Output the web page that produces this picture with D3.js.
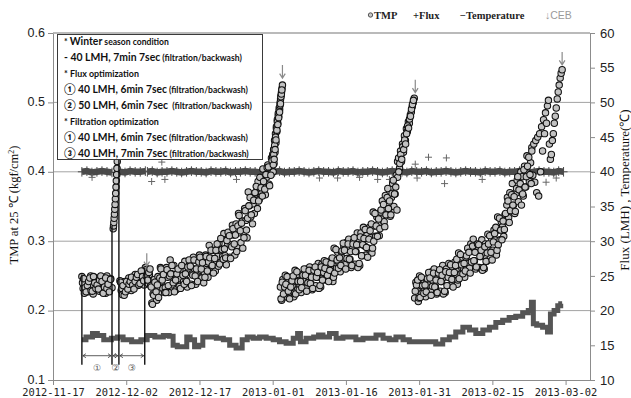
<!DOCTYPE html>
<html>
<head>
<meta charset="utf-8">
<script src="https://cdn.jsdelivr.net/npm/d3@7"></script>
<style>
  body { margin: 0; background: #fff; }
  svg { display: block; }
</style>
</head>
<body>
<svg id="chart" width="631" height="398"></svg>
<script>
// ---------------- data ----------------
const xTickDates = ["2012-11-17", "2012-12-02", "2012-12-17", "2013-01-01",
                    "2013-01-16", "2013-01-31", "2013-02-15", "2013-03-02"];
const tmpTicks = [0.1, 0.2, 0.3, 0.4, 0.5, 0.6];
const rightTicks = [10, 15, 20, 25, 30, 35, 40, 45, 50, 55, 60];

// TMP runs (kgf/cm2): each run is logged at regular intervals between its start and end.
// The "b" runs are the interleaved readings of the same periods.
const tmpRunStart = ["2012-11-22 22:00", "2012-11-29 08:00", "2012-11-30 17:00",
                     "2012-12-06 00:00", "2013-01-01 00:00", "2013-01-02 14:00",
                     "2013-01-26 14:00", "2013-01-30 02:00", "2013-02-23 02:00",
                     "2012-11-23 01:00", "2012-11-30 20:00", "2012-12-06 03:00",
                     "2013-01-01 03:00", "2013-01-02 17:00", "2013-01-26 20:00",
                     "2013-01-30 05:00"];
const tmpRunEnd   = ["2012-11-29 02:00", "2012-11-30 07:00", "2012-12-05 22:00",
                     "2013-01-01 00:00", "2013-01-03 00:00", "2013-01-26 14:00",
                     "2013-01-30 00:00", "2013-02-23 02:00", "2013-03-01 07:00",
                     "2012-11-28 19:00", "2012-12-05 14:00", "2012-12-31 21:00",
                     "2013-01-02 21:00", "2013-01-26 11:00", "2013-01-29 20:00",
                     "2013-02-22 23:00"];
const tmpRun1 = [0.249,0.232,0.225,0.241, 0.244,0.227,0.236,0.250, 0.238,0.224,0.246,0.230,
                 0.247,0.234,0.228,0.242, 0.229,0.245,0.237,0.225, 0.250,0.240,0.232,0.246,
                 0.233];
const tmpRun2 = [0.318,0.322,0.327,0.333,0.339,0.346,0.353,0.361,0.369,0.378,0.387,0.396,
                 0.405,0.415,0.425,0.435];
const tmpRun3 = [0.243,0.229,0.223,0.236, 0.242,0.228,0.235,0.247, 0.241,0.229,0.248,0.234,
                 0.252,0.241,0.236,0.248, 0.240,0.254,0.247,0.237, 0.262];
const tmpRun4 = [0.259,0.245,0.239,0.252, 0.236,0.211,0.224,0.245, 0.237,0.215,0.249,0.225,
                 0.262,0.242,0.232,0.254, 0.233,0.262,0.248,0.226, 0.273,0.253,0.237,0.265,
                 0.241,0.230,0.253,0.246, 0.259,0.234,0.265,0.242, 0.271,0.244,0.234,0.259,
                 0.266,0.238,0.253,0.277, 0.260,0.238,0.272,0.248, 0.280,0.258,0.247,0.271,
                 0.255,0.280,0.268,0.248, 0.294,0.276,0.263,0.287, 0.271,0.257,0.287,0.278,
                 0.297,0.269,0.304,0.278, 0.311,0.279,0.266,0.296, 0.310,0.277,0.295,0.323,
                 0.309,0.280,0.325,0.293, 0.340,0.312,0.298,0.329, 0.313,0.347,0.330,0.305,
                 0.371,0.351,0.335,0.363, 0.354,0.340,0.370,0.361, 0.386,0.360,0.392,0.369,
                 0.404,0.377,0.367,0.392, 0.410,0.382,0.397,0.420, 0.425];
const tmpRun5 = [0.420,0.400,0.432,0.412,0.445,0.428,0.455,0.442,0.465,0.458,0.475,0.470,
                 0.484,0.480,0.492,0.490,0.500,0.505,0.510,0.515,0.520,0.525];
const tmpRun6 = [0.234,0.215,0.245,0.224, 0.251,0.230,0.219,0.242, 0.225,0.246,0.236,0.220,
                 0.258,0.242,0.230,0.252, 0.237,0.226,0.249,0.242, 0.255,0.233,0.260,0.240,
                 0.263,0.239,0.230,0.252, 0.259,0.236,0.248,0.268, 0.255,0.234,0.267,0.244,
                 0.272,0.253,0.244,0.265, 0.248,0.272,0.260,0.242, 0.290,0.273,0.261,0.284,
                 0.269,0.256,0.284,0.276, 0.292,0.266,0.298,0.275, 0.303,0.274,0.262,0.289,
                 0.300,0.267,0.285,0.312, 0.295,0.265,0.312,0.279, 0.320,0.293,0.280,0.309,
                 0.290,0.320,0.305,0.283, 0.342,0.322,0.307,0.335, 0.324,0.308,0.342,0.332,
                 0.358,0.328,0.366,0.338, 0.376,0.347,0.336,0.363, 0.383,0.350,0.368,0.395,
                 0.415];
const tmpRun7 = [0.392,0.420,0.405,0.430,0.415,0.440,0.428,0.452,0.445,0.462,0.458,0.472,
                 0.470,0.482,0.486,0.494,0.500,0.506];
const tmpRun8 = [0.218,0.241,0.230,0.213, 0.250,0.236,0.225,0.245, 0.231,0.220,0.244,0.237,
                 0.250,0.228,0.256,0.235, 0.260,0.234,0.224,0.248, 0.255,0.228,0.242,0.265,
                 0.248,0.226,0.260,0.236, 0.268,0.247,0.236,0.259, 0.244,0.270,0.257,0.238,
                 0.283,0.266,0.253,0.277, 0.261,0.248,0.277,0.268, 0.289,0.261,0.296,0.270,
                 0.303,0.272,0.260,0.289, 0.291,0.262,0.278,0.302, 0.283,0.260,0.296,0.271,
                 0.310,0.287,0.275,0.301, 0.287,0.316,0.302,0.280, 0.335,0.316,0.302,0.328,
                 0.321,0.307,0.338,0.329, 0.363,0.334,0.370,0.344, 0.383,0.352,0.340,0.369,
                 0.388,0.357,0.374,0.400, 0.393,0.365,0.408,0.378, 0.423,0.398,0.386,0.413,
                 0.435];
const tmpRun9 = [0.430,0.395,0.440,0.385,0.445,0.370,0.450,0.365,0.455,0.400,0.465,0.430,
                 0.475,0.455,0.485,0.470,0.495,0.503,0.440,0.418,0.425,0.445,0.455,0.470,
                 0.480,0.492,0.505,0.515,0.525,0.535,0.542,0.547];
const tmpRun1b = [0.240,0.246,0.233,0.227, 0.236,0.242,0.247,0.229, 0.228,0.249,0.240,0.232,
                  0.237,0.231,0.244,0.250, 0.242,0.225,0.234,0.247, 0.232,0.238,0.227,0.245];
const tmpRun3b = [0.241,0.232,0.236,0.222, 0.227,0.242,0.231,0.238, 0.242,0.248,0.237,0.231,
                  0.242,0.248,0.252,0.237, 0.239,0.257,0.249,0.243];
const tmpRun4b = [0.249,0.244,0.255,0.260, 0.234,0.209,0.222,0.241, 0.227,0.237,0.219,0.247,
                  0.260,0.244,0.252,0.226, 0.226,0.259,0.236,0.250, 0.253,0.265,0.240,0.227,
                  0.244,0.253,0.260,0.235, 0.232,0.265,0.251,0.238, 0.253,0.242,0.263,0.273,
                  0.264,0.236,0.251,0.273, 0.250,0.260,0.242,0.270, 0.277,0.260,0.269,0.240,
                  0.248,0.278,0.257,0.270, 0.276,0.287,0.265,0.254, 0.275,0.287,0.296,0.264,
                  0.267,0.304,0.288,0.274, 0.289,0.276,0.301,0.313, 0.308,0.275,0.292,0.318,
                  0.296,0.309,0.285,0.322, 0.337,0.315,0.326,0.290, 0.305,0.344,0.316,0.333,
                  0.351,0.363,0.338,0.325, 0.359,0.370,0.379,0.347, 0.358,0.392,0.377,0.365,
                  0.386,0.375,0.396,0.406, 0.407,0.380,0.395,0.416];
const tmpRun5b = [0.410,0.425,0.418,0.438,0.432,0.450,0.446,0.462,0.460,0.472,0.468,0.480,
                  0.478,0.488,0.486,0.496,0.498,0.508,0.512,0.518];
const tmpRun6b = [0.217,0.241,0.224,0.234, 0.238,0.249,0.228,0.217, 0.234,0.243,0.250,0.225,
                  0.224,0.256,0.242,0.230, 0.242,0.233,0.251,0.260, 0.251,0.228,0.240,0.258,
                  0.239,0.248,0.232,0.258, 0.263,0.248,0.255,0.232, 0.236,0.263,0.244,0.255,
                  0.261,0.270,0.251,0.242, 0.258,0.268,0.276,0.248, 0.254,0.288,0.273,0.261,
                  0.276,0.265,0.286,0.297, 0.287,0.260,0.275,0.296, 0.274,0.285,0.265,0.296,
                  0.305,0.285,0.295,0.262, 0.268,0.306,0.279,0.295, 0.304,0.317,0.291,0.277,
                  0.303,0.315,0.325,0.290, 0.300,0.340,0.322,0.307, 0.332,0.318,0.345,0.358,
                  0.353,0.321,0.338,0.363, 0.347,0.358,0.338,0.369, 0.388,0.368,0.378,0.345];
const tmpRun7b = [0.400,0.412,0.425,0.418,0.436,0.432,0.446,0.440,0.455,0.466,0.463,0.476,
                  0.480,0.490,0.497,0.503];
const tmpRun8b = [0.228,0.237,0.244,0.218, 0.219,0.248,0.236,0.225, 0.237,0.227,0.246,0.255,
                  0.247,0.222,0.235,0.254, 0.234,0.244,0.226,0.254, 0.259,0.242,0.251,0.224,
                  0.228,0.256,0.236,0.248, 0.255,0.266,0.245,0.234, 0.255,0.265,0.274,0.244,
                  0.246,0.281,0.266,0.253, 0.268,0.257,0.279,0.290, 0.284,0.254,0.270,0.293,
                  0.272,0.284,0.263,0.296, 0.295,0.278,0.287,0.258, 0.262,0.292,0.271,0.283,
                  0.296,0.308,0.284,0.273, 0.299,0.311,0.320,0.287, 0.295,0.333,0.316,0.302,
                  0.329,0.317,0.340,0.352, 0.358,0.327,0.344,0.367, 0.352,0.364,0.343,0.376,
                  0.393,0.374,0.383,0.352, 0.368,0.403,0.378,0.393, 0.408,0.421,0.396,0.383];
const tmpRuns = [tmpRun1, tmpRun2, tmpRun3, tmpRun4, tmpRun5, tmpRun6, tmpRun7, tmpRun8, tmpRun9,
                 tmpRun1b, tmpRun3b, tmpRun4b, tmpRun5b, tmpRun6b, tmpRun7b, tmpRun8b];

// Flux (LMH): logged runs, plus scattered readings off the set point
const fluxRunStart = ["2012-11-22 22:00", "2012-11-29 08:00", "2012-11-30 17:00", "2012-12-06 08:00"];
const fluxRunEnd   = ["2012-11-29 02:00", "2012-11-30 07:00", "2012-12-05 22:00", "2013-03-01 14:00"];
const fluxRun1 = [40.0,40.1,39.9,40.0,40.1,40.0,39.9];
const fluxRun2 = [50.0,50.0];
const fluxRun3 = [40.0,39.9,40.1,40.0,40.0,40.1];
const fluxRun4 = [40.0,40.1,39.9,40.0,40.0,40.1,40.0,39.9,40.0,40.1,40.0,40.0,39.9,40.1,40.0,
                  40.0,40.1,39.9,40.0,40.0,40.1,40.0,40.0,39.9,40.1,40.0,40.0,40.1,39.9,40.0,
                  40.0,40.1,40.0,39.9,40.0,40.1,40.0,40.0,39.9,40.1,40.0,40.0,40.1,39.9,40.0,
                  40.0,40.1,40.0,39.9,40.0,40.1,40.0,40.0,39.9,40.1,40.0,40.0,40.1,39.9,40.0,
                  40.0,40.1,40.0,39.9,40.0,40.1,40.0,40.0,39.9,40.1,40.0,40.0,40.1,39.9,40.0,
                  40.0,40.1,40.0,39.9,40.0,40.1,40.0,40.0,39.9,40.1,40.0];
const fluxRuns = [fluxRun1, fluxRun2, fluxRun3, fluxRun4];
const fluxOutlierDates = ["2012-11-25 00:00", "2012-12-07 05:00", "2012-12-09 07:00", "2012-12-09 22:00",
                          "2012-12-24 14:00", "2013-01-10 14:00", "2013-01-14 07:00", "2013-01-18 19:00",
                          "2013-01-22 12:00", "2013-01-24 22:00", "2013-01-30 05:00", "2013-01-30 14:00",
                          "2013-02-01 22:00", "2013-02-05 14:00", "2013-02-05 05:00", "2013-02-12 22:00",
                          "2013-02-26 00:00", "2013-02-28 02:00"];
const fluxOutlierValues = [39.2, 38.6, 41.4, 38.9, 38.9, 39.1, 39.1, 39.2, 38.9, 38.9,
                           41.1, 39.1, 42.1, 42.0, 38.3, 38.9, 38.5, 39.1];

// Feed water temperature (℃)
const tempDates = ["2012-11-22 22:00","2012-11-24 14:00","2012-11-25 14:00","2012-11-26 14:00","2012-11-28 05:00",
  "2012-11-29 17:00","2012-11-30 17:00","2012-12-02 00:00","2012-12-04 05:00","2012-12-05 19:00",
  "2012-12-06 19:00","2012-12-08 22:00","2012-12-10 07:00","2012-12-11 07:00","2012-12-11 22:00",
  "2012-12-13 00:00","2012-12-14 05:00","2012-12-14 14:00","2012-12-15 14:00","2012-12-16 10:00",
  "2012-12-17 07:00","2012-12-18 02:00","2012-12-19 17:00","2012-12-21 05:00","2012-12-22 14:00",
  "2012-12-23 19:00","2012-12-25 05:00","2012-12-26 07:00","2012-12-27 07:00","2012-12-28 17:00",
  "2012-12-29 22:00","2012-12-31 10:00","2013-01-01 19:00","2013-01-03 00:00","2013-01-04 12:00",
  "2013-01-05 22:00","2013-01-06 07:00","2013-01-07 02:00","2013-01-08 14:00","2013-01-10 05:00",
  "2013-01-10 14:00","2013-01-12 00:00","2013-01-13 07:00","2013-01-14 17:00","2013-01-16 02:00",
  "2013-01-17 07:00","2013-01-18 19:00","2013-01-20 05:00","2013-01-21 10:00","2013-01-22 22:00",
  "2013-01-24 07:00","2013-01-25 12:00","2013-01-27 00:00","2013-01-28 10:00","2013-01-29 14:00",
  "2013-01-31 02:00","2013-02-01 12:00","2013-02-02 17:00","2013-02-04 02:00","2013-02-05 14:00",
  "2013-02-06 19:00","2013-02-08 05:00","2013-02-09 17:00","2013-02-10 22:00","2013-02-12 07:00",
  "2013-02-13 19:00","2013-02-15 00:00","2013-02-16 10:00","2013-02-17 19:00","2013-02-19 02:00",
  "2013-02-20 12:00","2013-02-21 22:00","2013-02-22 19:00","2013-02-23 05:00","2013-02-23 14:00",
  "2013-02-24 14:00","2013-02-26 00:00","2013-02-26 14:00","2013-02-27 05:00","2013-02-28 02:00",
  "2013-02-28 17:00","2013-03-01 07:00"];
const tempValues = [15.8,16.2,16.7,16.4,15.8, 16.0,16.2,15.8,15.5,15.8,
  16.4,16.2,16.4,16.3,15.0, 14.8,14.8,16.2,15.8,14.8,
  15.0,16.2,16.2,16.0,15.8, 15.0,14.6,15.8,16.2,16.0,
  16.2,16.0,15.8,15.5,15.3, 16.0,16.7,15.5,16.0,16.2,
  16.5,16.2,16.7,16.0,16.2, 16.2,15.8,16.0,16.0,16.5,
  16.0,15.8,16.2,15.8,15.5, 15.5,15.5,15.5,15.2,15.8,
  16.2,16.9,17.6,17.2,16.7, 17.2,17.6,18.3,18.6,19.0,
  19.2,19.7,20.0,21.2,18.1, 17.9,17.6,16.9,19.5,20.0,
  20.7,21.0];

// Test periods ①②③ (boundaries and the TMP level each boundary line reaches)
const periodDates = ["2012-11-22 22:00", "2012-11-29 02:00", "2012-11-30 12:00", "2012-12-05 19:00"];
const periodTops = [0.252, 0.322, 0.418, 0.262];
const periodLabels = ["①", "②", "③"];

// Chemically enhanced backwash events and the TMP reached just before each
const cebDates = ["2012-12-06 05:00", "2013-01-03 00:00", "2013-01-30 05:00", "2013-03-01 07:00"];
const cebTmp = [0.264, 0.535, 0.514, 0.554];

// Operating conditions note
const noteLines = [
  [["* ", "s"], ["Winter", "L"], [" season condition", "s"]],
  [["- 40 LMH, 7min 7sec", "L"], [" (filtration/backwash)", "s"]],
  [["* Flux optimization", "s"]],
  [["① 40 LMH, 6min 7sec", "L"], [" (filtration/backwash)", "s"]],
  [["② 50 LMH, 6min 7sec", "L"], ["  (filtration/backwash)", "s"]],
  [["* Filtration optimization", "s"]],
  [["① 40 LMH, 6min 7sec", "L"], [" (filtration/backwash)", "s"]],
  [["③ 40 LMH, 7min 7sec", "L"], [" (filtration/backwash)", "s"]]
];
const noteLineWidths = [105, 178, 75, 184, 188, 95, 184, 185];

// ---------------- drawing ----------------
const parseTime = d3.timeParse("%Y-%m-%d %H:%M");
const parseDay = d3.timeParse("%Y-%m-%d");

const plot = { left: 53, right: 590, top: 33, bottom: 380 };
const svg = d3.select("#chart");

const x = d3.scaleTime()
  .domain([parseDay("2012-11-17"), parseDay("2013-03-07")])
  .range([plot.left, plot.right]);
const yL = d3.scaleLinear().domain([0.1, 0.6]).range([plot.bottom, plot.top]);
const yR = d3.scaleLinear().domain([10, 60]).range([plot.bottom, plot.top]);

function spread(startStr, endStr, values) {
  const t0 = parseTime(startStr).getTime(), t1 = parseTime(endStr).getTime();
  const n = values.length;
  return values.map((v, i) => ({ t: new Date(n > 1 ? t0 + (t1 - t0) * i / (n - 1) : t0), v }));
}

// gridlines
svg.append("g").selectAll("line")
  .data(tmpTicks.filter(d => d > 0.1))
  .join("line")
  .attr("x1", plot.left).attr("x2", plot.right)
  .attr("y1", d => yL(d)).attr("y2", d => yL(d))
  .attr("stroke", "#a3a3a3").attr("stroke-width", 1);

// temperature
svg.append("path")
  .datum(tempDates.map((d, i) => ({ t: parseTime(d), v: tempValues[i] })))
  .attr("fill", "none")
  .attr("stroke", "#555")
  .attr("stroke-width", 5)
  .attr("d", d3.line().curve(d3.curveStep).x(d => x(d.t)).y(d => yR(d.v)));

// flux
const fluxG = svg.append("g");
fluxRuns.forEach((run, k) => {
  const pts = spread(fluxRunStart[k], fluxRunEnd[k], run);
  fluxG.append("path").datum(pts)
    .attr("fill", "none").attr("stroke", "#4a4a4a").attr("stroke-width", 6.5)
    .attr("d", d3.line().x(d => x(d.t)).y(d => yR(d.v)));
  fluxG.append("g").selectAll("path").data(pts).join("path")
    .attr("transform", d => `translate(${x(d.t)},${yR(d.v)})`)
    .attr("d", "M-4,0H4M0,-4.8V4.8")
    .attr("stroke", "#4a4a4a").attr("stroke-width", 1);
});
fluxG.append("g").selectAll("path")
  .data(fluxOutlierDates.map((d, i) => ({ t: parseTime(d), v: fluxOutlierValues[i] })))
  .join("path")
  .attr("transform", d => `translate(${x(d.t)},${yR(d.v)})`)
  .attr("d", "M-3.5,0H3.5M0,-3.5V3.5")
  .attr("stroke", "#666").attr("stroke-width", 1);

// TMP
const tmpG = svg.append("g");
tmpRuns.forEach((run, k) => {
  tmpG.append("g").selectAll("circle")
    .data(spread(tmpRunStart[k], tmpRunEnd[k], run))
    .join("circle")
    .attr("cx", d => x(d.t)).attr("cy", d => yL(d.v)).attr("r", 3.2)
    .attr("fill", "#c2c2c2").attr("stroke", "#111").attr("stroke-width", 1.05);
});

// test period markers
const per = svg.append("g").attr("stroke", "#111");
const pd = periodDates.map(parseTime);
per.selectAll("line").data(pd).join("line")
  .attr("x1", d => x(d)).attr("x2", d => x(d))
  .attr("y1", (d, i) => yL(periodTops[i])).attr("y2", yL(0.122))
  .attr("stroke-width", 1.4);
const arrowY = yL(0.135);
periodLabels.forEach((lab, i) => {
  const xa = x(pd[i]), xb = x(pd[i + 1]);
  const g = svg.append("g").attr("stroke", "#333").attr("stroke-width", 0.8).attr("fill", "none");
  g.append("line").attr("x1", xa + 1).attr("x2", xb - 1).attr("y1", arrowY).attr("y2", arrowY);
  g.append("path").attr("d", `M${xa + 4},${arrowY - 2}L${xa + 1},${arrowY}L${xa + 4},${arrowY + 2}`);
  g.append("path").attr("d", `M${xb - 4},${arrowY - 2}L${xb - 1},${arrowY}L${xb - 4},${arrowY + 2}`);
  svg.append("text")
    .attr("x", (xa + xb) / 2).attr("y", yL(0.118) + 3.5)
    .attr("text-anchor", "middle")
    .attr("font-family", "DejaVu Sans, sans-serif").attr("font-size", 9)
    .attr("fill", "#555").text(lab);
});

// CEB arrows
const ceb = svg.append("g").attr("stroke", "#8a8a8a").attr("stroke-width", 1.2).attr("fill", "none");
cebDates.forEach((d, i) => {
  const cx = x(parseTime(d)), tip = yL(cebTmp[i]);
  ceb.append("path").attr("d", `M${cx},${tip - 13}V${tip}M${cx - 2.8},${tip - 4.5}L${cx},${tip}L${cx + 2.8},${tip - 4.5}`);
});

// axes
const axStyle = g => {
  g.selectAll(".domain").attr("stroke", "#8c8c8c");
  g.selectAll(".tick line").attr("stroke", "#8c8c8c");
  g.selectAll(".tick text").attr("fill", "#222");
};
svg.append("g").attr("transform", `translate(0,${plot.bottom})`)
  .call(d3.axisBottom(x).tickValues(xTickDates.map(parseDay))
    .tickFormat(d3.timeFormat("%Y-%m-%d")).tickSize(5).tickSizeOuter(0).tickPadding(3.5))
  .call(axStyle)
  .call(g => g.selectAll(".tick text").attr("font-family", "DejaVu Sans Mono, monospace").attr("font-size", 10.4));
svg.append("g").attr("transform", `translate(${plot.left},0)`)
  .call(d3.axisLeft(yL).tickValues(tmpTicks).tickFormat(d3.format(".1f")).tickSize(5).tickSizeOuter(0).tickPadding(3))
  .call(axStyle)
  .call(g => g.selectAll(".tick text").attr("dy", "0.25em")
    .attr("font-family", "Liberation Sans, Arial, sans-serif").attr("font-size", 12.5));
svg.append("g").attr("transform", `translate(${plot.right},0)`)
  .call(d3.axisRight(yR).tickValues(rightTicks).tickSize(5).tickSizeOuter(0).tickPadding(5))
  .call(axStyle)
  .call(g => g.selectAll(".tick text").attr("font-family", "Liberation Sans, Arial, sans-serif").attr("font-size", 13));
// top frame line
svg.append("line").attr("x1", plot.left).attr("x2", plot.right)
  .attr("y1", plot.top).attr("y2", plot.top).attr("stroke", "#a3a3a3");

// axis titles
const lt = svg.append("text")
  .attr("transform", `translate(18,205) rotate(-90)`)
  .attr("text-anchor", "middle")
  .attr("font-family", "Liberation Serif, serif").attr("font-size", 12.5).attr("fill", "#111");
lt.append("tspan").text("TMP  at 25 ℃ (kgf/cm");
lt.append("tspan").attr("baseline-shift", "super").attr("font-size", 8).text("2");
lt.append("tspan").text(")");
svg.append("text")
  .attr("transform", `translate(629,190) rotate(-90)`)
  .attr("text-anchor", "middle")
  .attr("font-family", "Liberation Serif, serif").attr("font-size", 13).attr("fill", "#111")
  .text("Flux (LMH) , Temperature(℃)");

// legend
const leg = svg.append("g").attr("font-family", "Liberation Serif, serif").attr("font-weight", "bold")
  .attr("font-size", 10.5).attr("fill", "#222");
leg.append("circle").attr("cx", 370.5).attr("cy", 15).attr("r", 2.2)
  .attr("fill", "#c6c6c6").attr("stroke", "#333").attr("stroke-width", 0.8);
leg.append("text").attr("x", 374).attr("y", 19).text("TMP");
leg.append("text").attr("x", 413).attr("y", 19).text("+Flux");
leg.append("text").attr("x", 460).attr("y", 19).text("−Temperature");
leg.append("text").attr("x", 545).attr("y", 19).attr("font-family", "Liberation Sans, sans-serif")
  .attr("font-weight", "normal").attr("fill", "#9a9a9a").text("↓CEB");

// note box
const box = svg.append("g");
box.append("rect").attr("x", 57.5).attr("y", 34.5).attr("width", 205).attr("height", 125)
  .attr("fill", "#fff").attr("stroke", "#3a3a3a").attr("stroke-width", 1);
noteLines.forEach((segs, i) => {
  const bx = 64, by = 45 + 16 * i;
  const t = box.append("text").attr("x", bx).attr("y", by)
    .attr("font-family", "Lato, Open Sans, sans-serif").attr("font-weight", "bold").attr("fill", "#111")
    .attr("xml:space", "preserve").style("white-space", "pre");
  segs.forEach(s => t.append("tspan").attr("font-size", s[1] === "L" ? 11.5 : 9.5).text(s[0]));
  const w = t.node().getComputedTextLength();
  const k = noteLineWidths[i] / w;
  t.attr("transform", `translate(${bx},0) scale(${k},1) translate(${-bx},0)`);
});
</script>
</body>
</html>
